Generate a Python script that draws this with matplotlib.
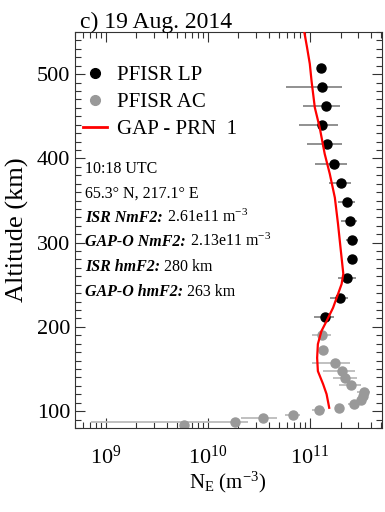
import numpy as np
import matplotlib
matplotlib.use('Agg')
import matplotlib.pyplot as plt
from matplotlib.ticker import LogLocator, MultipleLocator, NullFormatter
from matplotlib.lines import Line2D

plt.rcParams['font.family'] = ['Liberation Serif', 'DejaVu Serif']
plt.rcParams['mathtext.fontset'] = 'custom'
plt.rcParams['mathtext.rm'] = 'Liberation Serif'
plt.rcParams['mathtext.it'] = 'Liberation Serif:italic'
plt.rcParams['mathtext.bf'] = 'Liberation Serif:bold'

# PFISR long pulse (altitude km, Ne m^-3, error bar low/high)
lp_alt = [507.8, 484.9, 462.0, 439.4, 416.9, 393.8, 370.5, 348.3, 325.8,
          302.9, 280.3, 257.7, 234.7, 212.1]
lp_ne = [1.28e11, 1.32e11, 1.43e11, 1.33e11, 1.48e11, 1.73e11, 2.01e11,
         2.31e11, 2.45e11, 2.60e11, 2.61e11, 2.32e11, 1.97e11, 1.41e11]
lp_lo = [1.28e11, 5.9e10, 8.6e10, 7.8e10, 9.4e10, 1.12e11, 1.53e11,
         1.87e11, 2.01e11, 2.25e11, 2.34e11, 1.90e11, 1.57e11, 1.09e11]
lp_hi = [1.28e11, 2.05e11, 1.97e11, 1.88e11, 2.05e11, 2.32e11, 2.52e11,
         2.76e11, 2.91e11, 3.00e11, 2.91e11, 2.81e11, 2.39e11, 1.72e11]

# PFISR alternating code
ac_alt = [189.9, 172.5, 156.7, 147.5, 138.9, 130.6, 123.0, 117.8, 113.1,
          108.0, 104.0, 100.9, 95.6, 91.4, 87.3, 83.0]
ac_ne = [1.33e11, 1.35e11, 1.76e11, 2.05e11, 2.20e11, 2.56e11, 3.41e11,
         3.29e11, 3.16e11, 2.72e11, 1.94e11, 1.22e11, 6.8e10, 3.48e10,
         1.87e10, 5.87e9]
ac_lo = [1.05e11, 1.35e11, 1.04e11, 1.35e11, 1.69e11, 1.94e11, 2.91e11,
         3.29e11, 3.16e11, 2.37e11, 1.94e11, 1.05e11, 5.7e10, 2.14e10,
         7.2e8, 5.87e9]
ac_hi = [1.60e11, 1.35e11, 2.47e11, 2.76e11, 2.87e11, 3.21e11, 3.87e11,
         3.29e11, 3.16e11, 3.09e11, 1.94e11, 1.40e11, 8.0e10, 4.72e10,
         2.5e10, 5.87e9]

# GAP-O profile, PRN 1
gap_alt = [551, 531.6, 512.2, 492, 460.3, 436.6, 405.3, 381.6, 353.4, 322.2,
           294.0, 263.0, 250.9, 239.0, 222.7, 206.9, 195.0, 179.6, 163.3,
           147.5, 132.1, 120.2, 104.0]
gap_ne = [8.8e10, 9.4e10, 1.00e11, 1.04e11, 1.12e11, 1.25e11, 1.40e11,
          1.57e11, 1.76e11, 1.89e11, 2.00e11, 2.13e11, 2.05e11, 1.89e11,
          1.69e11, 1.46e11, 1.30e11, 1.20e11, 1.18e11, 1.20e11, 1.35e11,
          1.46e11, 1.55e11]

# info block: (bold-italic key, regular value)
info_lines = [
    ('', '10:18 UTC'),
    ('', '65.3° N, 217.1° E'),
    ('ISR NmF2:', ' 2.61e11 m$^{-3}$'),
    ('GAP-O NmF2:', ' 2.13e11 m$^{-3}$'),
    ('ISR hmF2:', ' 280 km'),
    ('GAP-O hmF2:', ' 263 km'),
]

fig = plt.figure(figsize=(3.85, 5.12), dpi=100)
ax = fig.add_axes([75 / 385, 84 / 512, 307 / 385, 396 / 512])

lp_ne = np.array(lp_ne)
ac_ne = np.array(ac_ne)
lp_err = [lp_ne - np.array(lp_lo), np.array(lp_hi) - lp_ne]
ac_err = [ac_ne - np.array(ac_lo), np.array(ac_hi) - ac_ne]

ax.errorbar(ac_ne, ac_alt, xerr=ac_err, fmt='o', color='#999999',
            ecolor='#bbbbbb', elinewidth=1.3, ms=6.5, capsize=0, zorder=2)
ax.errorbar(lp_ne, lp_alt, xerr=lp_err, fmt='o', color='black',
            ecolor='#888888', elinewidth=1.3, ms=6.5, capsize=0, zorder=3)
ax.plot(gap_ne, gap_alt, color='red', lw=1.6, zorder=4)

ax.set_xscale('log')
ax.set_xlim(5e8, 5.1e11)
ax.set_ylim(80, 550)
ax.yaxis.set_major_locator(MultipleLocator(100))
ax.yaxis.set_minor_locator(MultipleLocator(10))
ax.xaxis.set_major_locator(LogLocator(base=10, numticks=10))
ax.xaxis.set_minor_locator(LogLocator(base=10, subs=np.arange(2, 10), numticks=10))
ax.xaxis.set_minor_formatter(NullFormatter())
ax.tick_params(which='both', direction='in', top=True, right=True,
               labelsize=16, color='#333333', width=0.8)
ax.tick_params(which='major', length=7)
ax.tick_params(which='minor', length=4)
ax.tick_params(axis='y', pad=3.5)
ax.tick_params(axis='x', pad=13)
for s in ax.spines.values():
    s.set_linewidth(0.8)
    s.set_color('#333333')

ax.set_ylabel('Altitude (km)', fontsize=19)
ax.yaxis.set_label_coords(-0.15, 0.5)
ax.set_xlabel(r'N$_\mathrm{E}$ (m$^{-3}$)', fontsize=15)
ax.xaxis.set_label_coords(0.497, -0.105)

fig.text(80 / 385, 1 - 28 / 512, 'c) 19 Aug. 2014', fontsize=17, va='baseline')

handles = [
    Line2D([], [], ls='none', marker='o', color='black', ms=7),
    Line2D([], [], ls='none', marker='o', color='#999999', ms=7),
    Line2D([], [], color='red', lw=2),
]
ax.legend(handles, ['PFISR LP', 'PFISR AC', 'GAP - PRN  1'], loc='upper left',
          bbox_to_anchor=(0.025, 0.915), frameon=False, fontsize=15,
          handlelength=1.15, handletextpad=0.5, labelspacing=0.35,
          borderpad=0, borderaxespad=0, numpoints=1)

# bold-italic key first, then the value placed right after it
fig.canvas.draw()
renderer = fig.canvas.get_renderer()
for i, (key, val) in enumerate(info_lines):
    y = 1 - (173 + 24.5 * i) / 512
    x = 85 / 385
    if key:
        tk = fig.text(x, y, key, fontsize=11.5, weight='bold', style='italic',
                      va='baseline', ha='left')
        bb = tk.get_window_extent(renderer)
        x = bb.x1 / fig.bbox.width
    fig.text(x, y, val, fontsize=11.5, va='baseline', ha='left')

fig.savefig('out.png', dpi=100)
